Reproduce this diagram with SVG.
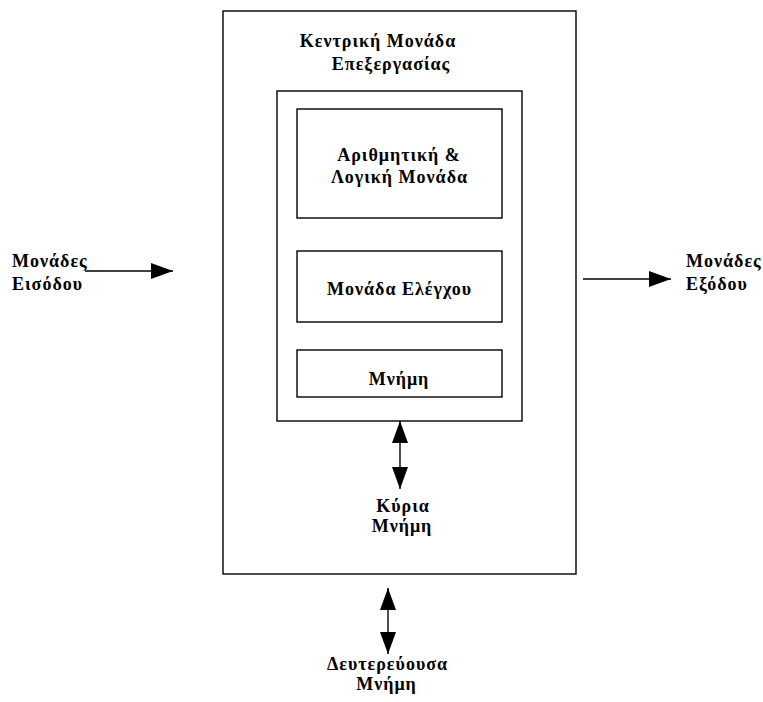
<svg xmlns="http://www.w3.org/2000/svg" width="763" height="702" viewBox="0 0 763 702">
<defs>
<style>
.box{fill:none;stroke:#000;stroke-width:1.4}
.ln{stroke:#000;stroke-width:1.4;fill:none}
.t{font-family:"Liberation Serif","Times New Roman",serif;font-weight:bold;font-size:18px;letter-spacing:1px;fill:#000}
.m{text-anchor:middle}
</style>
<marker id="ah" viewBox="0 0 22 16" refX="22" refY="8" markerWidth="22" markerHeight="16" markerUnits="userSpaceOnUse" orient="auto-start-reverse">
<path d="M0,0 L22,8 L0,16 Z" fill="#000"/>
</marker>
</defs>
<rect width="763" height="702" fill="#fff"/>
<g id="cpu">
<rect class="box" x="223" y="11" width="353" height="563"/>
<text class="t m" x="378" y="47">Κεντρική Μονάδα</text>
<text class="t m" x="391" y="70">Επεξεργασίας</text>
</g>
<g id="inner">
<rect class="box" x="277" y="91" width="245" height="330"/>
</g>
<g id="alu">
<rect class="box" x="297" y="109" width="205" height="109"/>
<text class="t m" x="399" y="161">Αριθμητική &amp;</text>
<text class="t m" x="399.5" y="183">Λογική Μονάδα</text>
</g>
<g id="control">
<rect class="box" x="297" y="251" width="205" height="71"/>
<text class="t m" x="399.5" y="295">Μονάδα Ελέγχου</text>
</g>
<g id="memory">
<rect class="box" x="297" y="350" width="205" height="47"/>
<text class="t m" x="399" y="385">Μνήμη</text>
</g>
<g id="mainmem">
<text class="t m" x="403" y="512">Κύρια</text>
<text class="t m" x="402" y="532">Μνήμη</text>
</g>
<g id="secmem">
<text class="t m" x="387.5" y="670">Δευτερεύουσα</text>
<text class="t m" x="386.5" y="690">Μνήμη</text>
</g>
<g id="input">
<text class="t" x="12" y="267">Μονάδες</text>
<text class="t" x="12" y="290">Εισόδου</text>
</g>
<g id="output">
<text class="t" x="686" y="267">Μονάδες</text>
<text class="t" x="686" y="290">Εξόδου</text>
</g>
<g id="connectors">
<line class="ln" x1="85" y1="271" x2="173" y2="271" marker-end="url(#ah)"/>
<line class="ln" x1="583" y1="279" x2="671" y2="279" marker-end="url(#ah)"/>
<line class="ln" x1="400" y1="421" x2="400" y2="489" marker-start="url(#ah)" marker-end="url(#ah)"/>
<line class="ln" x1="388" y1="588" x2="388" y2="654" marker-start="url(#ah)" marker-end="url(#ah)"/>
</g>
</svg>
